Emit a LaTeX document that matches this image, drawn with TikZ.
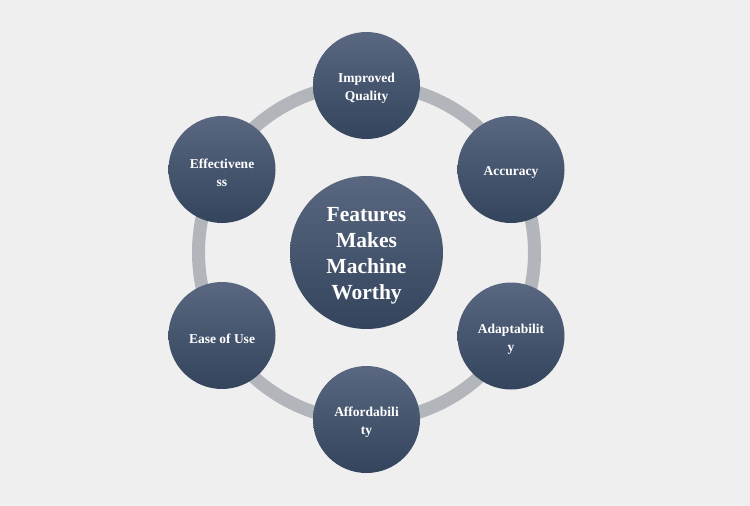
\documentclass[tikz,border=0pt]{standalone}
\usepackage{fontspec}
\setmainfont{Liberation Serif}
\definecolor{bgc}{HTML}{EFEFEF}
\definecolor{ringc}{HTML}{B2B5BA}
\definecolor{topc}{HTML}{596780}
\definecolor{botc}{HTML}{34445D}
\begin{document}
\begin{tikzpicture}[x=1pt,y=-1pt,
  disc/.style={circle, minimum size=#1, inner sep=0pt, top color=topc, bottom color=botc, draw=none},
  feat/.style={text=white, font=\bfseries\fontsize{13.5}{18}\selectfont, align=center, inner sep=0pt},
  hub/.style={text=white, font=\bfseries\fontsize{21.5}{26}\selectfont, align=center, inner sep=0pt}]
\fill[bgc] (0,0) rectangle (750,506);
\useasboundingbox (0,0) rectangle (750,506);
\coordinate (c) at (366.5,252.5);
\draw[ringc, line width=13pt] (c) circle[radius=168pt];
\node[disc=153pt] (hub) at (c) {};
\node[disc=107pt] (q) at (366.5,85.5) {};
\node[disc=107pt] (a) at (511,169.5) {};
\node[disc=107pt] (ad) at (511,336) {};
\node[disc=107pt] (af) at (366.5,419.5) {};
\node[disc=107pt] (e) at (222,335.5) {};
\node[disc=107pt] (ef) at (222,169.5) {};
\node[hub] (thub) at ([yshift=-3pt]hub.center) {Features\\Makes\\Machine\\Worthy};
\node[feat] (tq) at ([yshift=-3pt]q.center) {Improved\\Quality};
\node[feat] (ta) at ([yshift=-3pt]a.center) {Accuracy};
\node[feat] (tad) at ([yshift=-3pt]ad.center) {Adaptabilit\\y};
\node[feat] (taf) at ([yshift=-3pt]af.center) {Affordabili\\ty};
\node[feat] (te) at ([yshift=-3pt]e.center) {Ease of Use};
\node[feat] (tef) at ([yshift=-3pt]ef.center) {Effectivene\\ss};
\end{tikzpicture}
\end{document}
